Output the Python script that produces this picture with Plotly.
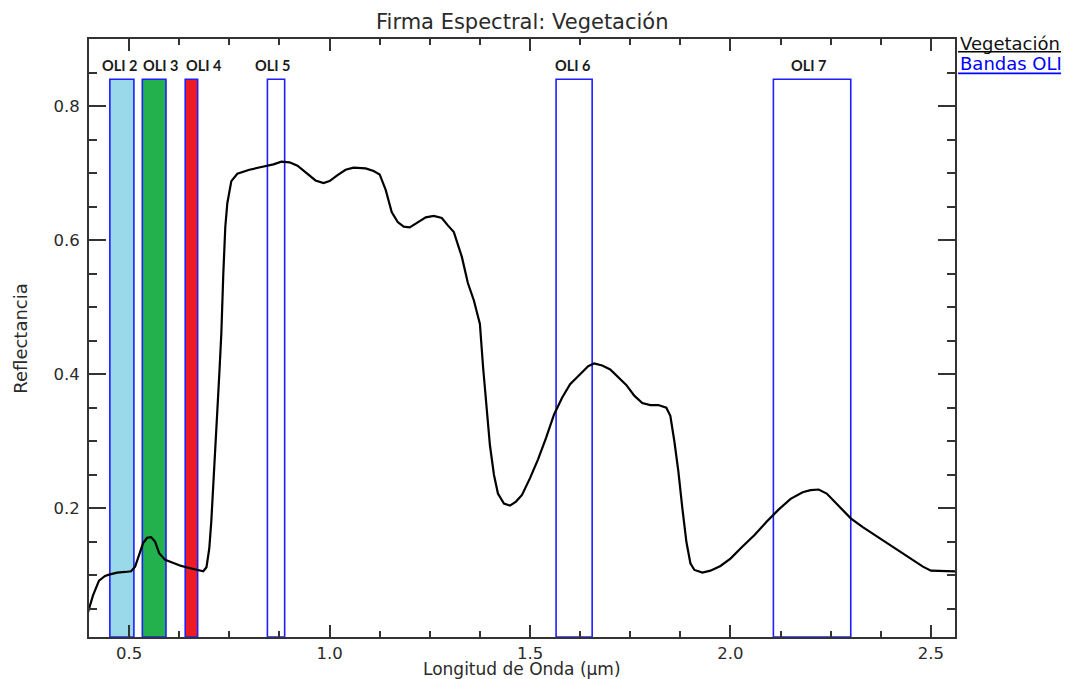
import plotly.graph_objects as go

# ---------------- data ----------------
wavelength = [0.395, 0.41, 0.425, 0.44, 0.45, 0.47, 0.49, 0.505, 0.515, 0.525,
              0.535, 0.545, 0.555, 0.565, 0.575, 0.59, 0.61, 0.63, 0.65, 0.67,
              0.685, 0.693, 0.70, 0.705, 0.71, 0.715, 0.72, 0.725, 0.73, 0.735,
              0.74, 0.745, 0.755, 0.77, 0.80, 0.83, 0.86, 0.88, 0.90, 0.92,
              0.94, 0.965, 0.985, 1.0, 1.02, 1.04, 1.06, 1.09, 1.11, 1.125,
              1.14, 1.155, 1.17, 1.185, 1.2, 1.22, 1.24, 1.26, 1.28, 1.295,
              1.31, 1.33, 1.345, 1.36, 1.375, 1.383, 1.39, 1.4, 1.41, 1.42,
              1.435, 1.45, 1.465, 1.48, 1.5, 1.52, 1.54, 1.56, 1.58, 1.6,
              1.625, 1.645, 1.66, 1.68, 1.7, 1.72, 1.74, 1.76, 1.78, 1.8,
              1.82, 1.84, 1.85, 1.86, 1.87, 1.88, 1.89, 1.9, 1.91, 1.93,
              1.95, 1.975, 2.0, 2.03, 2.06, 2.09, 2.12, 2.15, 2.18, 2.2,
              2.22, 2.24, 2.26, 2.28, 2.3, 2.33, 2.36, 2.4, 2.44, 2.48,
              2.5, 2.53, 2.56]
reflectance = [0.040, 0.070, 0.092, 0.099, 0.101, 0.104, 0.105, 0.106, 0.113, 0.132,
               0.148, 0.156, 0.157, 0.150, 0.133, 0.123, 0.118, 0.114, 0.111, 0.108,
               0.106, 0.112, 0.140, 0.180, 0.230, 0.290, 0.345, 0.400, 0.460, 0.550,
               0.620, 0.655, 0.688, 0.699, 0.705, 0.709, 0.713, 0.717, 0.716, 0.711,
               0.701, 0.689, 0.685, 0.688, 0.697, 0.705, 0.708, 0.707, 0.703, 0.698,
               0.675, 0.642, 0.627, 0.620, 0.619, 0.627, 0.634, 0.636, 0.633, 0.622,
               0.612, 0.575, 0.536, 0.510, 0.475, 0.410, 0.360, 0.294, 0.250, 0.222,
               0.207, 0.204, 0.210, 0.220, 0.245, 0.273, 0.305, 0.340, 0.365, 0.385,
               0.400, 0.412, 0.416, 0.413, 0.407, 0.395, 0.384, 0.368, 0.357, 0.354,
               0.354, 0.350, 0.338, 0.300, 0.255, 0.200, 0.150, 0.118, 0.108, 0.104,
               0.107, 0.114, 0.125, 0.143, 0.160, 0.180, 0.198, 0.214, 0.224, 0.227,
               0.228, 0.222, 0.210, 0.198, 0.185, 0.172, 0.160, 0.145, 0.128, 0.113,
               0.107, 0.106, 0.106]

band_names = ["OLI 2", "OLI 3", "OLI 4", "OLI 5", "OLI 6", "OLI 7"]
band_start = [0.452, 0.533, 0.640, 0.845, 1.565, 2.107]
band_end = [0.512, 0.592, 0.671, 0.888, 1.655, 2.300]
band_top = 0.84

x_tick_vals = [0.5, 1.0, 1.5, 2.0, 2.5]
x_tick_text = ["0.5", "1.0", "1.5", "2.0", "2.5"]
y_tick_vals = [0.2, 0.4, 0.6, 0.8]
y_tick_text = ["0.2", "0.4", "0.6", "0.8"]

# ---------------- style ----------------
band_fill = ["#99D9EA", "#22B14C", "#ED1C24", "rgba(0,0,0,0)", "rgba(0,0,0,0)", "rgba(0,0,0,0)"]
band_label_x = [0.4755, 0.578, 0.688, 0.858, 1.606, 2.194]
band_edge = "rgb(30,30,255)"
x_range = [0.4, 2.56]
y_range = [0.008, 0.9]
FONT = "DejaVu Sans"
TXT = "#2a2a2a"

fig = go.Figure()

for name, b0, b1, fc in zip(band_names, band_start, band_end, band_fill):
    fig.add_trace(go.Scatter(
        x=[b0, b0, b1, b1, b0],
        y=[y_range[0], band_top, band_top, y_range[0], y_range[0]],
        mode="lines", fill="toself", fillcolor=fc,
        line=dict(color=band_edge, width=1.6),
        hoverinfo="skip", showlegend=False, name=name))

fig.add_trace(go.Scatter(
    x=wavelength, y=reflectance, mode="lines",
    line=dict(color="black", width=2.2),
    showlegend=False, name="Vegetación"))

for name, lx in zip(band_names, band_label_x):
    fig.add_annotation(x=lx, y=0.86, xref="x", yref="y", text="<b>" + name + "</b>",
                       showarrow=False, font=dict(family="Lato", size=14.5, color="#1a1a1a"),
                       xanchor="center", yanchor="middle")

axis_common = dict(
    showgrid=False, zeroline=False, showline=True, linecolor="#333333", linewidth=2,
    mirror="ticks", ticks="inside", tickcolor="#333333", tickwidth=1.6,
    tickfont=dict(family=FONT, size=16.5, color=TXT),
)

fig.update_xaxes(range=x_range, tickvals=x_tick_vals, ticktext=x_tick_text, ticklen=12,
                 ticklabelstandoff=0,
                 minor=dict(ticks="inside", dtick=0.125, tick0=0, ticklen=6,
                            tickcolor="#333333", tickwidth=1.6),
                 **axis_common)
fig.update_yaxes(range=y_range, tickvals=y_tick_vals, ticktext=y_tick_text, ticklen=17,
                 ticklabelstandoff=4,
                 minor=dict(ticks="inside", dtick=0.05, tick0=0, ticklen=8,
                            tickcolor="#333333", tickwidth=1.6),
                 **axis_common)

# titles
fig.add_annotation(x=0.5, y=1.028, xref="paper", yref="paper", text="Firma Espectral: Vegetación",
                   showarrow=False, font=dict(family=FONT, size=21, color=TXT),
                   xanchor="center", yanchor="middle")
fig.add_annotation(x=0.5, y=-0.054, xref="paper", yref="paper", text="Longitud de Onda (µm)",
                   showarrow=False, font=dict(family=FONT, size=17, color=TXT),
                   xanchor="center", yanchor="middle")
fig.add_annotation(x=-0.080, y=0.5, xref="paper", yref="paper", text="Reflectancia",
                   textangle=-90, showarrow=False, font=dict(family=FONT, size=18, color=TXT),
                   xanchor="center", yanchor="middle")

# legend (text + underline)
fig.add_annotation(x=1.0035, y=0.9925, xref="paper", yref="paper", text="Vegetación",
                   showarrow=False, font=dict(family=FONT, size=18, color="#111111"),
                   xanchor="left", yanchor="middle")
fig.add_annotation(x=1.0035, y=0.959, xref="paper", yref="paper", text="Bandas OLI",
                   showarrow=False, font=dict(family=FONT, size=18, color="#0000FF"),
                   xanchor="left", yanchor="middle")
fig.add_shape(type="line", xref="paper", yref="paper", x0=1.0035, x1=1.1224, y0=0.9788, y1=0.9788,
              line=dict(color="black", width=1.6))
fig.add_shape(type="line", xref="paper", yref="paper", x0=1.0035, x1=1.131, y0=0.9426, y1=0.9426,
              line=dict(color="#0000FF", width=1.6))

# The page places the figure 8 px from the top-left corner (default body margin),
# so the figure is made 8 px smaller and the margins shifted to keep the plot area in place.
fig.update_layout(
    width=1061, height=671,
    margin=dict(l=81, r=114, t=31, b=42),
    paper_bgcolor="white", plot_bgcolor="white",
    showlegend=False,
)

fig.write_html("out.html")
